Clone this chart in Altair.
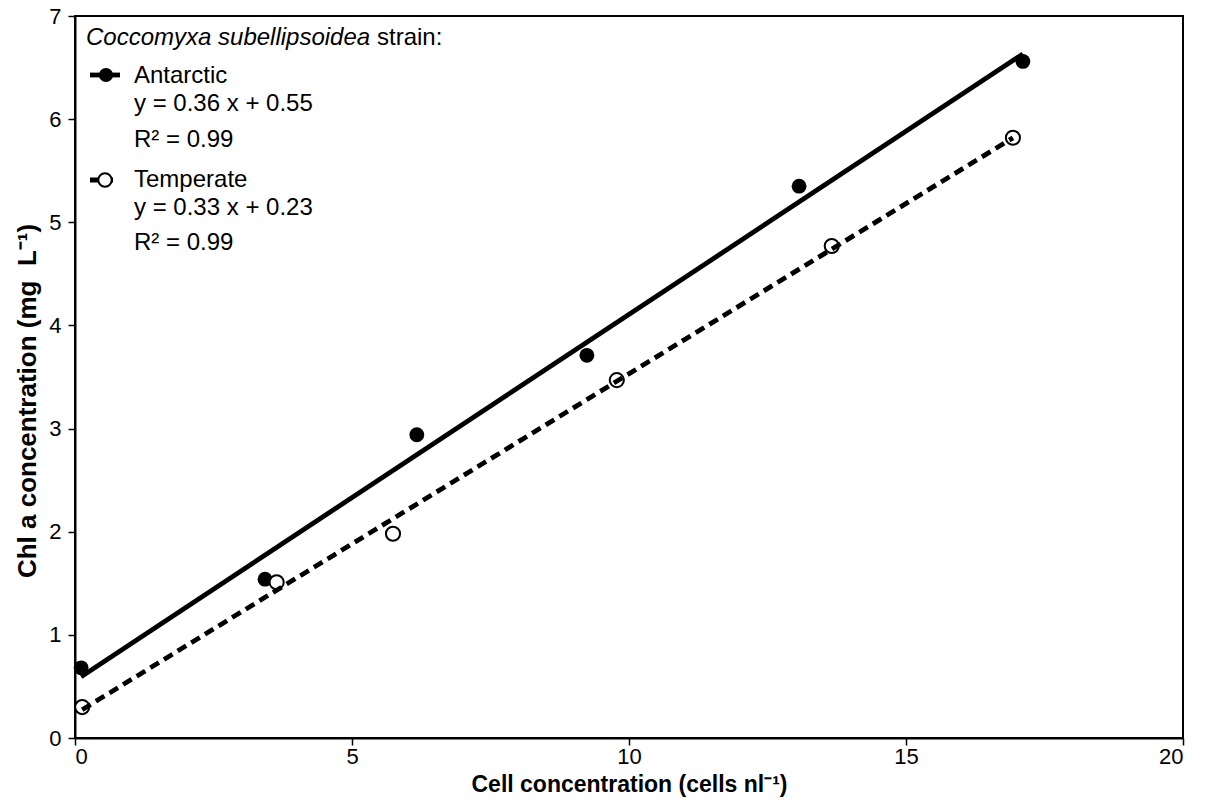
import altair as alt
import pandas as pd

# Data
ant_x = [0.11, 3.43, 6.17, 9.24, 13.07, 17.11]
ant_y = [0.68, 1.54, 2.94, 3.71, 5.35, 6.56]
tem_x = [0.13, 3.64, 5.74, 9.78, 13.66, 16.93]
tem_y = [0.30, 1.51, 1.98, 3.47, 4.77, 5.82]

x_ticks = [0, 5, 10, 15, 20]
y_ticks = [0, 1, 2, 3, 4, 5, 6, 7]

x_title = "Cell concentration (cells nl⁻¹)"
y_title = "Chl a concentration (mg\u00a0 L⁻¹)"
legend_title_italic = "Coccomyxa subellipsoidea"
legend_title_rest = "strain:"
ant_label = ["Antarctic", "y = 0.36 x + 0.55", "R² = 0.99"]
tem_label = ["Temperate", "y = 0.33 x + 0.23", "R² = 0.99"]

FONT = "Liberation Sans"
LEG = 24

ant = pd.DataFrame({"x": ant_x, "y": ant_y})
tem = pd.DataFrame({"x": tem_x, "y": tem_y})
one = pd.DataFrame({"k": [0]})

xs = alt.Scale(domain=[0, 20], nice=False, zero=False)
ys = alt.Scale(domain=[0, 7], nice=False, zero=False)

xaxis = alt.Axis(values=x_ticks, title=x_title,
                 titleY=53, titleBaseline="alphabetic", labelPadding=1,
                 titleFontSize=23)
yaxis = alt.Axis(values=y_ticks, title=None, labelPadding=7)

X = alt.X("x:Q", scale=xs, axis=xaxis)
Y = alt.Y("y:Q", scale=ys, axis=yaxis)

ant_pts = alt.Chart(ant).mark_circle(size=220, color="black", opacity=1).encode(x=X, y=Y)
tem_pts = alt.Chart(tem).mark_point(shape="circle", size=200, filled=False, fill="white",
                                   fillOpacity=1, stroke="black", strokeWidth=2,
                                   opacity=1).encode(x=X, y=Y)

ant_line = alt.Chart(ant).transform_regression("x", "y").mark_line(
    color="black", strokeWidth=4.8).encode(x=X, y=Y)
tem_line = alt.Chart(tem).transform_regression("x", "y").mark_line(
    color="black", strokeWidth=4.8, strokeDash=[10, 6]).encode(x=X, y=Y)

def txt(s, x, y, italic=False, size=LEG):
    kw = dict(text=s, align="left", baseline="alphabetic", font=FONT,
              fontSize=size, color="black")
    if italic:
        kw["fontStyle"] = "italic"
    return alt.Chart(one).mark_text(**kw).encode(x=alt.value(x), y=alt.value(y))

legend = [
    txt(legend_title_italic, 11, 29, italic=True),
    txt(legend_title_rest, 302, 29),
    txt(ant_label[0], 59, 67),
    txt(ant_label[1], 59, 95),
    txt(ant_label[2], 59, 131),
    txt(tem_label[0], 59, 171),
    txt(tem_label[1], 59, 199),
    txt(tem_label[2], 59, 234),
]

ytitle_mark = alt.Chart(one).mark_text(
    text=y_title, angle=270, align="center", baseline="middle", font=FONT,
    fontSize=26, fontWeight="bold", color="black"
).encode(x=alt.value(-47), y=alt.value(385))

sym_ant_line = alt.Chart(one).mark_rule(color="black", strokeWidth=4.8).encode(
    x=alt.value(15), x2=alt.value(45), y=alt.value(59))
sym_ant_pt = alt.Chart(one).mark_circle(size=200, color="black", opacity=1).encode(
    x=alt.value(31), y=alt.value(59))
sym_tem_line = alt.Chart(one).mark_rule(color="black", strokeWidth=4.8, strokeDash=[8, 7]).encode(
    x=alt.value(15), x2=alt.value(45), y=alt.value(164))
sym_tem_pt = alt.Chart(one).mark_point(shape="circle", size=180, filled=False, fill="white",
                                       fillOpacity=1, stroke="black", strokeWidth=2,
                                       opacity=1).encode(x=alt.value(30), y=alt.value(164))

chart = alt.layer(
    ant_pts, tem_pts, ant_line, tem_line,
    sym_ant_line, sym_ant_pt, sym_tem_line, sym_tem_pt, ytitle_mark, *legend
).properties(
    width=1108, height=722,
    autosize=alt.AutoSizeParams(type="none"),
    padding={"left": 75, "top": 16, "right": 23, "bottom": 69},
    background="white",
).configure_view(
    stroke="black", strokeWidth=2
).configure_axis(
    grid=False, domainColor="black", domainWidth=2, tickColor="black", tickWidth=1.5,
    tickSize=7, labelFont=FONT, labelFontSize=22, labelColor="black",
    titleFont=FONT, titleFontSize=23, titleFontWeight="bold", titleColor="black"
)

chart.save("out.html", embed_options={"renderer": "svg", "actions": False})
